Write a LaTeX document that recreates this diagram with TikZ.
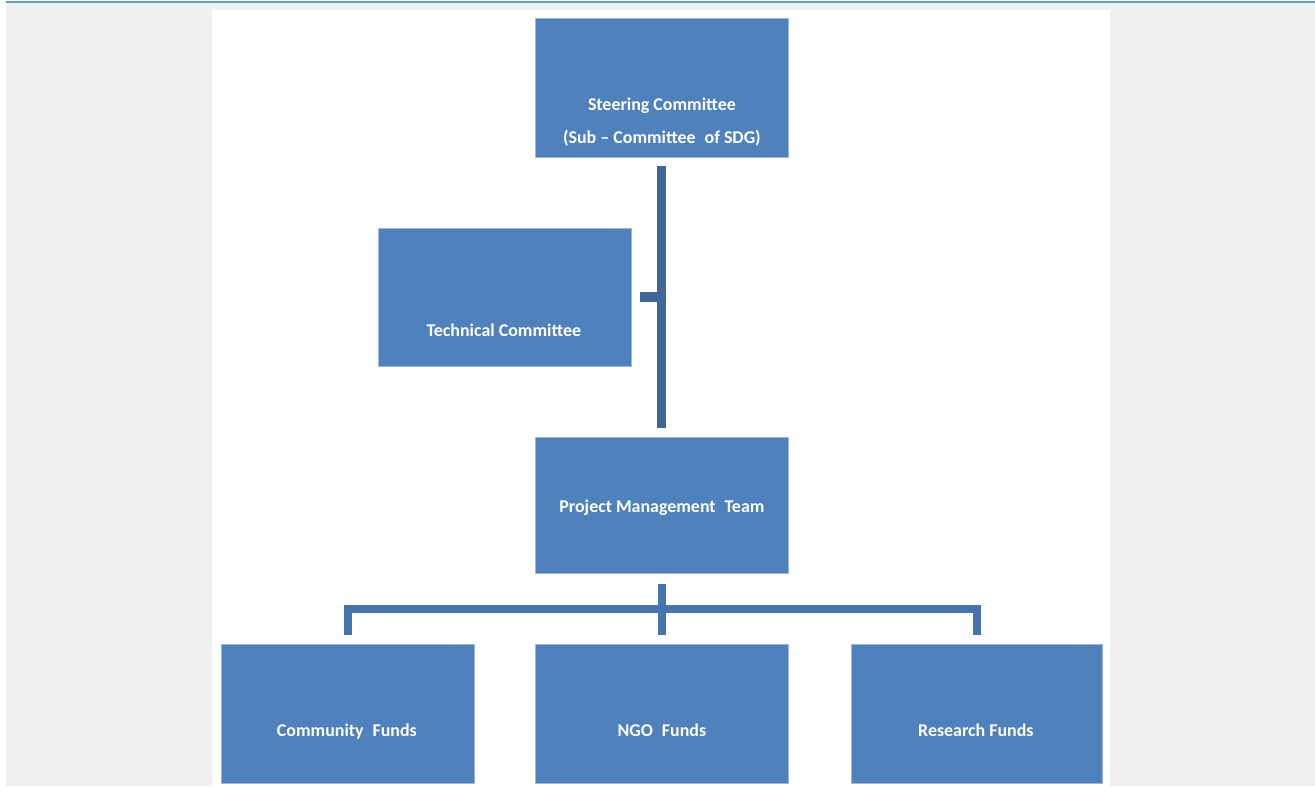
\documentclass[tikz,border=0pt]{standalone}
\usepackage{fontspec}
\setmainfont{Carlito}
\usetikzlibrary{calc}
\definecolor{boxblue}{HTML}{4F81BD}
\definecolor{boxedge}{HTML}{9DB6DB}
\definecolor{connup}{HTML}{3F6699}
\definecolor{connlow}{HTML}{4674AE}
\definecolor{bggray}{HTML}{F0F0F0}
\definecolor{topblue}{HTML}{5B9BD5}
\begin{document}
\begin{tikzpicture}[x=1bp,y=-1bp,
  box/.style={draw=boxedge, line width=0.8bp, fill=boxblue, minimum width=253bp, minimum height=139bp, inner sep=0pt, anchor=north west},
  txt/.style={text=white, font=\bfseries\fontsize{18}{33}\selectfont, align=center, inner sep=0pt, anchor=base},
  upline/.style={draw=connup, line width=9bp},
  lowline/.style={draw=connlow, line width=8.5bp}]
\useasboundingbox (0,0) rectangle (1315,786);
\fill[white] (0,0) rectangle (1315,786);
\fill[bggray] (6,2) rectangle (1315,786);
\fill[white] (212,10) rectangle (1110,786);
\draw[topblue, line width=2.5bp] (6,2) -- (1315,2);

\node[box] (steer) at (535,18) {};
\node[box, minimum height=138bp] (tech) at (378,228) {};
\node[box, minimum height=136bp] (pmt) at (535,437) {};
\node[box] (comm) at (221,644) {};
\node[box] (ngo) at (535,644) {};
\node[box, minimum width=251bp] (res) at (851,644) {};

\node[txt] (steerT) at ($(steer.north)+(0,125)$) {Steering Committee\\(Sub -- Committee\enspace of SDG)};
\node[txt] (techT) at ($(tech.north)+(-1,108)$) {Technical Committee};
\node[txt] (pmtT) at ($(pmt.north)+(0,75)$) {Project Management\enspace Team};
\node[txt] (commT) at ($(comm.north)+(-1,92)$) {Community\enspace Funds};
\node[txt] (ngoT) at ($(ngo.north)+(0,92)$) {NGO\enspace Funds};
\node[txt] (resT) at ($(res.north)+(-1,92)$) {Research Funds};

\coordinate (s1) at ($(steer.south)+(0,8)$);
\coordinate (p1) at ($(pmt.north)+(0,-9)$);
\coordinate (tk) at ($(tech.east)+(8,0)$);
\draw[upline] (s1) -- (p1);
\draw[upline, line width=10bp] (tk) -- (tk -| s1);

\coordinate (p2) at ($(pmt.south)+(0,10)$);
\coordinate (bar) at ($(pmt.south)+(0,35)$);
\coordinate (cd) at ($(comm.north)+(0,-9)$);
\coordinate (nd) at ($(ngo.north)+(0,-9)$);
\coordinate (rd) at ($(res.north)+(0,-9)$);
\draw[lowline] (cd) -- (cd |- bar) -- (rd |- bar) -- (rd);
\draw[lowline] (p2) -- (nd);
\end{tikzpicture}
\end{document}
